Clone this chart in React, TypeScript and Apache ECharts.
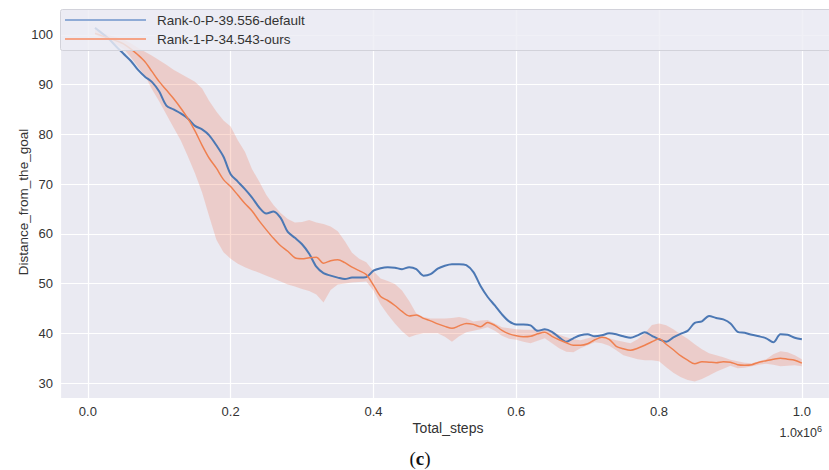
import React, { useEffect, useRef } from "react";
import * as echarts from "echarts";

const steps = [
  0.01, 0.02, 0.03, 0.04, 0.05, 0.06, 0.07, 0.08, 0.09, 0.1,
  0.11, 0.12, 0.13, 0.14, 0.15, 0.16, 0.17, 0.18, 0.19, 0.2,
  0.21, 0.22, 0.23, 0.24, 0.25, 0.26, 0.27, 0.28, 0.29, 0.3,
  0.31, 0.32, 0.33, 0.34, 0.35, 0.36, 0.37, 0.38, 0.39, 0.4,
  0.41, 0.42, 0.43, 0.44, 0.45, 0.46, 0.47, 0.48, 0.49, 0.5,
  0.51, 0.52, 0.53, 0.54, 0.55, 0.56, 0.57, 0.58, 0.59, 0.6,
  0.61, 0.62, 0.63, 0.64, 0.65, 0.66, 0.67, 0.68, 0.69, 0.7,
  0.71, 0.72, 0.73, 0.74, 0.75, 0.76, 0.77, 0.78, 0.79, 0.8,
  0.81, 0.82, 0.83, 0.84, 0.85, 0.86, 0.87, 0.88, 0.89, 0.9,
  0.91, 0.92, 0.93, 0.94, 0.95, 0.96, 0.97, 0.98, 0.99, 1.0,
];

const defaultDistance = [
  101.4, 100.3, 99.1, 97.6, 96.2, 94.8, 93.0, 91.6, 90.5, 88.6,
  85.8, 85.0, 84.2, 83.2, 81.7, 81.0, 79.8, 77.8, 75.5, 72.0,
  70.5, 69.0, 67.3, 65.3, 64.1, 64.5, 63.2, 60.4, 59.2, 57.9,
  56.0, 53.4, 52.1, 51.6, 51.2, 50.9, 51.2, 51.2, 51.3, 52.6,
  53.1, 53.3, 53.2, 52.9, 53.3, 52.9, 51.6, 51.9, 53.0, 53.6,
  53.9, 53.9, 53.7, 52.3, 49.5, 47.3, 45.6, 43.8, 42.4, 41.8,
  41.8, 41.6, 40.5, 40.8, 40.3, 39.2, 38.3, 39.0, 39.6, 39.8,
  39.4, 39.6, 40.0, 39.8, 39.4, 39.1, 39.6, 40.2, 39.5, 38.8,
  38.3, 39.2, 39.9, 40.5, 42.1, 42.4, 43.5, 43.1, 42.8, 42.0,
  40.3, 40.1, 39.7, 39.4, 39.0, 38.2, 39.8, 39.7, 39.1, 38.8,
];

const oursDistance = [
  100.3, 99.8, 99.3, 98.8, 98.2, 97.2, 96.0, 94.6, 92.6, 90.6,
  88.9, 87.2, 85.3, 83.2, 80.7, 77.8, 75.2, 73.2, 70.9, 69.5,
  67.8, 66.1, 64.6, 62.6, 60.8, 59.1, 57.6, 56.5, 55.2, 55.0,
  55.2, 55.3, 54.1, 54.6, 54.8, 54.2, 53.3, 52.6, 51.8, 49.7,
  47.4, 46.6, 45.6, 44.4, 43.5, 43.7, 43.0, 42.5, 41.9, 41.4,
  41.0, 41.5, 42.0, 41.8, 41.3, 42.2, 41.6, 40.6, 39.9, 39.5,
  39.3, 39.4, 39.9, 40.2, 39.4, 38.7, 38.1, 37.6, 37.6, 37.9,
  38.7, 39.2, 38.8, 37.4, 36.9, 36.6, 37.0, 37.6, 38.3, 38.9,
  37.8, 36.7, 35.5, 34.6, 33.9, 34.3, 34.2, 34.1, 34.3, 34.2,
  33.7, 33.6, 33.7, 34.2, 34.5, 34.8, 35.0, 34.8, 34.6, 34.0,
];

const oursLower = [
  100.0, 99.4, 98.8, 98.0, 97.2, 95.5, 93.6, 91.8, 89.0, 86.6,
  84.0, 81.4, 78.8, 75.6, 72.2, 68.3, 63.5, 58.8, 56.3, 55.0,
  54.0, 53.3, 52.7, 52.2, 51.6, 51.0, 50.4, 49.8, 49.4, 48.9,
  48.5, 47.8, 46.2, 48.7, 49.8, 50.0, 50.2, 50.3, 50.4, 48.6,
  45.8, 43.8, 42.0, 40.4, 39.2, 39.7, 40.0, 40.0, 40.0, 39.3,
  38.3, 39.4, 40.2, 40.5, 40.8, 41.2, 40.5, 39.5, 38.9, 38.7,
  38.3, 38.0, 38.5, 39.0, 38.0, 37.0, 36.3, 36.2, 37.0, 37.6,
  38.2, 38.0, 37.5, 36.6, 35.6, 35.2, 34.8, 34.6, 34.6, 34.4,
  33.2, 32.1, 31.2, 30.6, 30.3, 30.8, 31.5, 32.3, 32.9, 33.5,
  33.0, 33.1, 33.4, 33.7, 33.9, 33.7, 33.4, 33.5, 33.6, 33.4,
];

const oursUpper = [
  101.0, 100.4, 99.9, 99.5, 99.1, 98.3, 97.4, 96.6, 95.8, 94.9,
  94.0, 93.0, 92.2, 91.4, 90.6, 89.2, 86.7, 84.6, 82.8, 81.6,
  78.8, 76.5, 73.0, 70.5, 67.8, 65.8, 64.2, 63.0, 62.3, 62.4,
  62.8, 62.3, 62.0, 61.5, 60.5, 58.5, 56.2, 55.0, 54.3, 52.5,
  51.0, 50.5, 49.9, 48.6, 46.5, 44.0, 43.3, 43.0, 43.0, 43.0,
  43.1, 43.3, 43.0, 42.4, 42.6, 42.7, 42.0, 41.2, 41.0, 40.8,
  40.7, 40.7, 40.7, 40.8, 40.4, 39.7, 39.2, 38.8, 38.6, 39.0,
  39.4, 39.4, 39.0, 38.6, 38.3, 38.0, 38.8, 40.0, 41.7, 42.0,
  41.6, 40.8, 39.8, 38.9, 37.8, 36.8, 36.0, 35.6, 35.2, 34.7,
  34.4, 34.1, 34.0, 34.4, 34.8, 35.8, 36.4, 36.2, 35.6, 34.8,
];

const xTicks = [0, 0.2, 0.4, 0.6, 0.8, 1.0];
const yTicks = [30, 40, 50, 60, 70, 80, 90, 100];
const legendLabels = ["Rank-0-P-39.556-default", "Rank-1-P-34.543-ours"];
const xAxisTitle = "Total_steps";
const yAxisTitle = "Distance_from_the_goal";
const xScaleNote = "1.0x10{sup|6}";
const panelLabel = "({b|c})";

const BLUE = "#4c78b4";
const ORANGE = "#ef8050";
const BAND = "rgba(240,125,95,0.27)";
const BG = "#eaeaf2";
const TEXT = "#333333";
const FONT = "'Liberation Sans', Arial, sans-serif";
const SERIF = "'Liberation Serif', 'DejaVu Serif', serif";

const isTick = (v: number, ticks: number[]) => ticks.some((t) => Math.abs(t - v) < 1e-6);

export default function App() {
  const ref = useRef<HTMLDivElement>(null);

  useEffect(() => {
    if (!ref.current) return;
    const chart = echarts.init(ref.current, undefined, { renderer: "svg" });

    const blueData = steps.map((s, i) => [s, defaultDistance[i]]);
    const orangeData = steps.map((s, i) => [s, oursDistance[i]]);

    const option: any = {
      animation: false,
      backgroundColor: "#ffffff",
      grid: {
        left: 60,
        top: 9,
        right: 0,
        bottom: 72,
        show: true,
        backgroundColor: BG,
        borderWidth: 0,
      },
      xAxis: {
        type: "value",
        min: -0.039,
        max: 1.038,
        splitNumber: 5,
        axisLine: { show: false },
        axisTick: { show: false },
        axisLabel: {
          margin: 7,
          color: TEXT,
          fontSize: 13,
          fontFamily: FONT,
          showMinLabel: false,
          showMaxLabel: false,
          formatter: (v: number) => (isTick(v, xTicks) ? v.toFixed(1) : ""),
        },
        splitLine: { show: true, lineStyle: { color: "#ffffff", width: 1.2 } },
      },
      yAxis: {
        type: "value",
        min: 27,
        max: 105.2,
        splitNumber: 8,
        axisLine: { show: false },
        axisTick: { show: false },
        axisLabel: {
          margin: 7,
          color: TEXT,
          fontSize: 13,
          fontFamily: FONT,
          showMinLabel: false,
          showMaxLabel: false,
          formatter: (v: number) => (isTick(v, yTicks) ? String(Math.round(v)) : ""),
        },
        splitLine: { show: true, lineStyle: { color: "#ffffff", width: 1.2 } },
      },
      series: [
        {
          type: "custom",
          name: "band",
          silent: true,
          z: 1,
          data: [[steps[0], oursLower[0]]],
          renderItem: (_params: any, api: any) => {
            const pts: number[][] = [];
            for (let i = 0; i < steps.length; i++) pts.push(api.coord([steps[i], oursUpper[i]]));
            for (let i = steps.length - 1; i >= 0; i--) pts.push(api.coord([steps[i], oursLower[i]]));
            return {
              type: "polygon",
              shape: { points: pts },
              style: { fill: BAND, stroke: "none" },
            };
          },
        },
        {
          type: "line",
          name: legendLabels[0],
          data: blueData,
          showSymbol: false,
          smooth: 0.3,
          z: 2,
          lineStyle: { color: BLUE, width: 2 },
          itemStyle: { color: BLUE },
        },
        {
          type: "line",
          name: legendLabels[1],
          data: orangeData,
          showSymbol: false,
          smooth: 0.3,
          z: 3,
          lineStyle: { color: ORANGE, width: 1.5 },
          itemStyle: { color: ORANGE },
        },
      ],
      graphic: [
        {
          type: "rect",
          z: 100,
          shape: { x: 60.5, y: 9.5, width: 780, height: 41, r: 2 },
          style: { fill: "rgba(237,237,244,0.82)", stroke: "#d2d2da", lineWidth: 1 },
        },
        {
          type: "line",
          z: 101,
          shape: { x1: 65, y1: 20, x2: 146, y2: 20 },
          style: { stroke: "#8fabd6", lineWidth: 2 },
        },
        {
          type: "line",
          z: 101,
          shape: { x1: 65, y1: 39, x2: 146, y2: 39 },
          style: { stroke: "#f5a487", lineWidth: 2 },
        },
        {
          type: "text",
          z: 101,
          x: 157,
          y: 20,
          style: {
            text: legendLabels[0],
            fill: TEXT,
            fontSize: 13.5,
            fontFamily: FONT,
            align: "left",
            verticalAlign: "middle",
          },
        },
        {
          type: "text",
          z: 101,
          x: 157,
          y: 39,
          style: {
            text: legendLabels[1],
            fill: TEXT,
            fontSize: 13.5,
            fontFamily: FONT,
            align: "left",
            verticalAlign: "middle",
          },
        },
        {
          type: "text",
          z: 101,
          x: 23,
          y: 202,
          rotation: Math.PI / 2,
          style: {
            text: yAxisTitle,
            fill: TEXT,
            fontSize: 13.5,
            fontFamily: FONT,
            align: "center",
            verticalAlign: "middle",
          },
        },
        {
          type: "text",
          z: 101,
          x: 448,
          y: 428,
          style: {
            text: xAxisTitle,
            fill: TEXT,
            fontSize: 14,
            fontFamily: FONT,
            align: "center",
            verticalAlign: "middle",
          },
        },
        {
          type: "text",
          z: 101,
          x: 822,
          y: 433,
          style: {
            text: xScaleNote,
            fill: TEXT,
            fontSize: 12.5,
            fontFamily: FONT,
            align: "right",
            verticalAlign: "middle",
            rich: {
              sup: { fontSize: 9, fill: TEXT, fontFamily: FONT, padding: [0, 0, 8, 0] },
            },
          },
        },
        {
          type: "text",
          z: 101,
          x: 420,
          y: 458,
          style: {
            text: panelLabel,
            fill: "#111111",
            fontSize: 19,
            fontFamily: SERIF,
            align: "center",
            verticalAlign: "middle",
            rich: {
              b: {
                fontSize: 19,
                fontWeight: "bold",
                fill: "#111111",
                fontFamily: SERIF,
              },
            },
          },
        },
      ],
    };

    chart.setOption(option);
    return () => chart.dispose();
  }, []);

  return (
    <div
      ref={ref}
      style={{ position: "absolute", left: 0, top: 0, width: 829, height: 470, background: "#ffffff" }}
    />
  );
}
